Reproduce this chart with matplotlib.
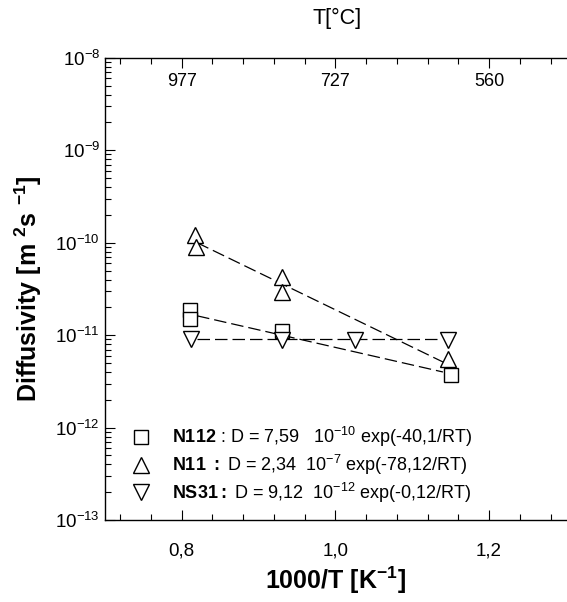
import matplotlib
matplotlib.use("Agg")
import matplotlib.pyplot as plt
from matplotlib.ticker import MultipleLocator, FixedLocator, LogLocator, NullFormatter

plt.rcParams['font.family'] = ['Liberation Sans', 'DejaVu Sans']
plt.rcParams['mathtext.fontset'] = 'custom'
plt.rcParams['mathtext.rm'] = 'Liberation Sans'
plt.rcParams['mathtext.bf'] = 'Liberation Sans:bold'
plt.rcParams['mathtext.it'] = 'Liberation Sans:italic'

# measured points (1000/T, D)
n112_x = [0.811, 0.811, 0.930, 1.150]
n112_y = [1.89e-11, 1.50e-11, 1.10e-11, 3.7e-12]
n11_x = [0.817, 0.818, 0.931, 0.931, 1.147]
n11_y = [1.22e-10, 9.0e-11, 4.3e-11, 2.9e-11, 5.5e-12]
ns31_x = [0.812, 0.930, 1.025, 1.147]
ns31_y = [9.0e-12, 8.8e-12, 8.9e-12, 8.9e-12]

# fitted lines (end points)
n112_fit_x = [0.82, 1.14]
n112_fit_y = [1.62e-11, 4.0e-12]
n11_fit_x = [0.82, 1.145]
n11_fit_y = [1.0e-10, 4.9e-12]
ns31_fit_x = [0.82, 1.135]
ns31_fit_y = [9.0e-12, 9.0e-12]

labels = [r"$\mathbf{N112}$ : D = 7,59   10$^{-10}$ exp(-40,1/RT)",
          r"$\mathbf{N11}$ $\mathbf{:}$ D = 2,34  10$^{-7}$ exp(-78,12/RT)",
          r"$\mathbf{NS31:}$ D = 9,12  10$^{-12}$ exp(-0,12/RT)"]

y_decades = [1e-13, 1e-12, 1e-11, 1e-10, 1e-9, 1e-8]
top_pos = [0.8, 1.0, 1.2]
top_labels = ["977", "727", "560"]

fig = plt.figure(figsize=(5.67, 6.02), dpi=100)
ax = fig.add_axes([0.185, 0.136, 0.813, 0.768])

dash = dict(color='black', lw=0.9, dashes=(10, 4))
ax.plot(n112_fit_x, n112_fit_y, **dash)
ax.plot(n11_fit_x, n11_fit_y, **dash)
ax.plot(ns31_fit_x, ns31_fit_y, **dash)

mk = dict(ls='none', mfc='white', mec='black', mew=1.0)
ax.plot(n112_x, n112_y, marker='s', ms=10, label=labels[0], **mk)
ax.plot(n11_x, n11_y, marker='^', ms=11.5, label=labels[1], **mk)
ax.plot(ns31_x, ns31_y, marker='v', ms=11.5, label=labels[2], **mk)

ax.set_yscale('log')
ax.set_ylim(1e-13, 1e-8)
ax.set_xlim(0.7, 1.3)

ax.xaxis.set_major_locator(FixedLocator([0.8, 1.0, 1.2]))
ax.xaxis.set_minor_locator(MultipleLocator(0.04))
ax.xaxis.set_major_formatter(plt.FuncFormatter(lambda v, p: f"{v:.1f}".replace('.', ',')))
ax.yaxis.set_major_locator(FixedLocator(y_decades))
ax.yaxis.set_minor_locator(LogLocator(base=10, subs=range(2, 10), numticks=20))
ax.yaxis.set_minor_formatter(NullFormatter())

ax.tick_params(which='both', direction='in', top=True, labelsize=13.5)
ax.tick_params(which='major', length=7, width=0.8)
ax.tick_params(which='minor', length=4, width=0.8)
ax.tick_params(axis='x', pad=16)
ax.spines['right'].set_visible(False)
for s in ['left', 'top', 'bottom']:
    ax.spines[s].set_linewidth(1.0)

# upper temperature labels, inside the frame
for p, t in zip(top_pos, top_labels):
    ax.annotate(t, xy=(p, 1), xycoords=('data', 'axes fraction'),
                xytext=(0, -11), textcoords='offset points',
                ha='center', va='top', fontsize=13)
fig.text(0.594, 0.970, "T[°C]", ha='center', va='center', fontsize=15.5)

ax.set_xlabel(r"1000/T [K$^{\mathbf{-1}}$]", fontsize=18, fontweight='bold', labelpad=4)
ax.set_ylabel(r"Diffusivity [m $\mathbf{^2}$s $\mathbf{^{-1}}$]", fontsize=18,
              fontweight='bold', labelpad=8)

ax.legend(loc='lower left', bbox_to_anchor=(0.035, 0.01), frameon=False,
          fontsize=13, handlelength=1.0, handletextpad=1.2, labelspacing=0.2,
          borderaxespad=0.2)

fig.savefig("out.png", dpi=100)
